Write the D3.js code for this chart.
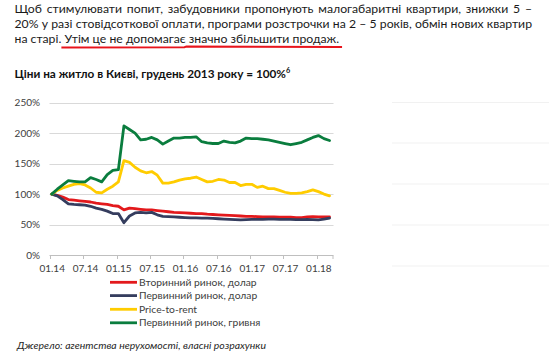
<!DOCTYPE html>
<html><head><meta charset="utf-8">
<script src="https://cdn.jsdelivr.net/npm/d3@7"></script>
<style>html,body{margin:0;padding:0;background:#fff;} svg{display:block;}</style>
</head><body>
<svg id="c" width="549" height="355"></svg>
<script>
// ---------- data ----------
const paragraphLines = [
  "Щоб стимулювати попит, забудовники пропонують малогабаритні квартири, знижки 5 –",
  "20% у разі стовідсоткової оплати, програми розстрочки на 2 – 5 років, обмін нових квартир",
  "на старі. Утім це не допомагає значно збільшити продаж."
];
const underlinedPart = "Утім це не допомагає значно збільшити продаж.";
const chartTitle = "Ціни на житло в Києві, грудень 2013 року = 100%";
const titleNote = "6";
const tickLabels = ["01.14","07.14","01.15","07.15","01.16","07.16","01.17","07.17","01.18"];
const yTicks = [0, 50, 100, 150, 200, 250];
const seriesNames = ["Вторинний ринок, долар","Первинний ринок, долар","Price-to-rent","Первинний ринок, гривня"];
// monthly values, 01.14 ... 03.18 (51 months), % of Dec 2013
const secondaryUSD = [100,98,95,91,90,89,88,87,85,84,83,81,80,74,77,76,75,74,74,73,72,71,70,69.5,69,68.5,68,68,67,66.5,66,65.5,65,64.5,64,63.5,63.5,63,62.5,62.5,62.5,62,62,62,61.5,61.5,62.5,63,62.5,62.5,62.5];
const primaryUSD = [100,97,91,84,83,82.5,82,80,77,75,72,68,68,53,64,69,70,69,70,66,63.5,63,62.5,62,61.5,61,61,60.5,60.5,60,59.5,59,58.5,58,57.5,58,58.5,58.5,58.5,59,59,58.5,58.5,58.5,58,58,58.5,58,57.5,59,60.5];
const priceToRent = [100,106,110,113,116,117,115,110,103,102,108,113,120,155,152,144,138,135,137,131,118,118,120,123,125,126,128,124,120,121,124,123,119,119,114,116,116,111,113,109,109,106,103,101,101,102,104,107,104,100,97];
const primaryUAH = [100,108,115,122,121,120,120,127,124,120,132,139,140,212,206,200,189,190,193,189,182,187,192,192,193,193,194,186,184,183,183,187,185,184,187,192,191,191,190,189,187,185,183,181,183,185,189,193,196,191,188];
const seriesColors = ["#e3191c","#353d5e","#ffcc00","#0a7d3e"];
const sourceText = "Джерело: агентства нерухомості, власні розрахунки";

// ---------- setup ----------
const FONT = "Lato, 'Open Sans', 'Noto Sans', sans-serif";
const svg = d3.select("#c");

function measure(str, size, weight, style) {
  const t = svg.append("text").attr("font-family", FONT).attr("font-size", size)
    .attr("font-weight", weight || "normal").attr("font-style", style || "normal")
    .attr("xml:space", "preserve").text(str);
  const w = t.node().getComputedTextLength();
  t.remove();
  return w;
}

// ---------- paragraph ----------
const pX0 = 14.5, pX1 = 532;
const pSize = 13 * 325 / measure(paragraphLines[2], 13);
const pBase = [13, 28.2, 43.4];
const pColor = "#1a1a1a";
const spaceW = measure("a a", pSize) - measure("aa", pSize);
let underlineStart = null, underlineEnd = null;
paragraphLines.forEach((line, li) => {
  const words = line.split(" ");
  const widths = words.map(w => measure(w, pSize));
  const total = d3.sum(widths);
  const justify = li < paragraphLines.length - 1;
  const gap = justify ? (pX1 - pX0 - total) / (words.length - 1) : spaceW;
  let x = pX0;
  const startWord = underlinedPart.split(" ")[0];
  words.forEach((w, i) => {
    svg.append("text").attr("x", x).attr("y", pBase[li])
      .attr("font-family", FONT).attr("font-size", pSize).attr("fill", pColor).text(w);
    if (li === 2 && w === startWord) underlineStart = x;
    x += widths[i];
    if (li === 2 && i === words.length - 1) underlineEnd = x;
    x += gap;
  });
});
// hand-drawn red underline
svg.append("path")
  .attr("d", `M${underlineStart - 3},47.6 L${underlineStart + 120},47.2 L${underlineStart + 122},46.6 L${underlineEnd + 3},46.9`)
  .attr("fill", "none").attr("stroke", "#e8141c").attr("stroke-width", 2);

// ---------- title ----------
const tSize = 13 * 272 / measure(chartTitle, 13, "bold");
const tt = svg.append("text").attr("x", 14.5).attr("y", 78)
  .attr("font-family", FONT).attr("font-size", tSize).attr("font-weight", "bold").attr("fill", "#111");
tt.append("tspan").text(chartTitle);
tt.append("tspan").attr("dy", -5).attr("font-size", tSize * 0.62).text(titleNote);

// ---------- faint leftovers of a neighbouring chart on the right ----------
[102.5, 143, 184, 225, 266].forEach(y => {
  svg.append("line").attr("x1", 392).attr("x2", 549).attr("y1", y).attr("y2", y)
    .attr("stroke", "#f1f1f1").attr("stroke-width", 1);
});

// ---------- chart ----------
const plotL = 49.5, plotR = 333.5;
const x = d3.scaleLinear().domain([0, 48]).range([51.7, 318.4]);
const y = d3.scaleLinear().domain([0, 250]).range([255, 102.7]);

// gridlines
svg.append("g").selectAll("line").data(yTicks.filter(d => d > 0)).join("line")
  .attr("x1", plotL).attr("x2", plotR)
  .attr("y1", d => Math.round(y(d)) + 0.5).attr("y2", d => Math.round(y(d)) + 0.5)
  .attr("stroke", "#d9d9d9").attr("stroke-width", 1);

// y axis labels
const yAxis = d3.axisLeft(y).tickValues(yTicks).tickSize(0).tickPadding(0).tickFormat(d => d + "%");
const gy = svg.append("g").attr("transform", `translate(40,0)`).call(yAxis);
gy.select(".domain").remove();
gy.selectAll("text").attr("font-family", FONT).attr("font-size", 10).attr("fill", "#404040");

// x axis
const xTickIdx = tickLabels.map((d, i) => i * 6);
const gx = svg.append("g").attr("transform", `translate(0,255.5)`);
gx.append("line").attr("x1", plotL).attr("x2", plotR).attr("stroke", "#bfbfbf");
gx.selectAll("line.t").data(xTickIdx).join("line").attr("class", "t")
  .attr("x1", d => Math.round(x(d) - 1.7) + 0.5).attr("x2", d => Math.round(x(d) - 1.7) + 0.5)
  .attr("y1", 0).attr("y2", 3.5).attr("stroke", "#bfbfbf");
gx.append("line").attr("x1", plotR - 0.5).attr("x2", plotR - 0.5).attr("y1", 0).attr("y2", 3.5).attr("stroke", "#bfbfbf");
gx.selectAll("text").data(xTickIdx).join("text")
  .attr("x", d => x(d) + 0.5).attr("y", 16.5).attr("text-anchor", "middle")
  .attr("font-family", FONT).attr("font-size", 10).attr("fill", "#404040")
  .text((d, i) => tickLabels[i]);

// series
const allSeries = [secondaryUSD, primaryUSD, priceToRent, primaryUAH];
const line = d3.line().x((d, i) => x(i)).y(d => y(d));
svg.append("g").selectAll("path").data(allSeries).join("path")
  .attr("d", d => line(d)).attr("fill", "none")
  .attr("stroke", (d, i) => seriesColors[i]).attr("stroke-width", 2.8)
  .attr("stroke-linejoin", "round").attr("stroke-linecap", "round");

// legend
const legY = [282.3, 295.6, 309.3, 322.8];
const leg = svg.append("g");
seriesNames.forEach((name, i) => {
  leg.append("line").attr("x1", 110).attr("x2", 137).attr("y1", legY[i]).attr("y2", legY[i])
    .attr("stroke", seriesColors[i]).attr("stroke-width", 2.8);
  leg.append("text").attr("x", 139).attr("y", legY[i] + 3.6)
    .attr("font-family", FONT).attr("font-size", 10.3).attr("fill", "#404040").text(name);
});

// source
const sSize = 10 * 249 / measure(sourceText, 10, "normal", "italic");
svg.append("text").attr("x", 17).attr("y", 348.5)
  .attr("font-family", FONT).attr("font-size", sSize).attr("font-style", "italic")
  .attr("fill", "#262626").text(sourceText);
</script>
</body></html>
